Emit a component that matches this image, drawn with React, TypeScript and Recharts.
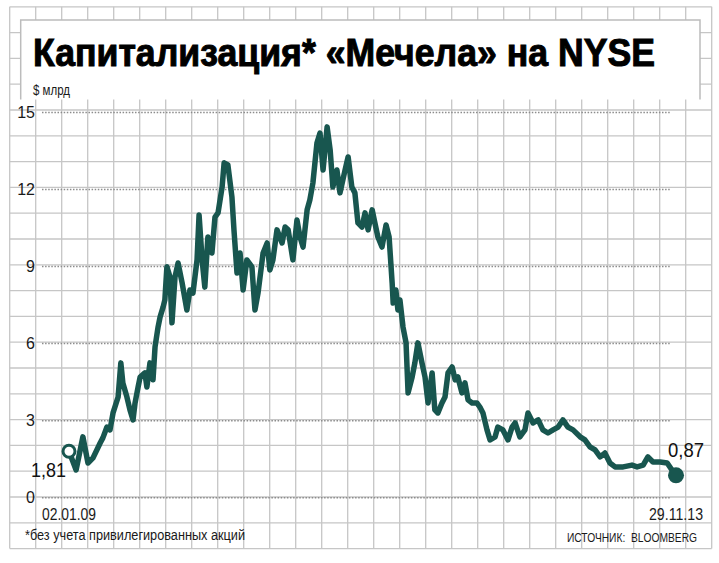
import React from 'react';
import { LineChart, Line, XAxis, YAxis, ReferenceLine, LabelList } from 'recharts';

// Days since 02.01.09 and Mechel market cap, $ bn
const days = [
  0, 21, 41, 56, 71, 92, 100, 112, 121, 130, 145, 153, 159, 171, 180, 189, 195, 204, 210, 224,
  230, 239, 248, 254, 263, 269, 278, 283, 289, 298, 304, 313, 322, 334, 348, 357, 366, 378, 384, 393,
  401, 410, 422, 431, 440, 452, 458, 469, 481, 487, 496, 505, 514, 525, 540, 549, 558, 573, 585, 593,
  602, 614, 629, 638, 647, 661, 673, 682, 691, 703, 711, 720, 732, 741, 750, 762, 771, 779, 791, 800,
  815, 824, 835, 844, 853, 865, 874, 883, 895, 903, 912, 924, 936, 945, 954, 957, 965, 971, 977, 986,
  995, 1001, 1013, 1021, 1030, 1042, 1051, 1060, 1072, 1080, 1089, 1101, 1110, 1119, 1131, 1140, 1148, 1160, 1169, 1178,
  1190, 1204, 1213, 1222, 1234, 1243, 1258, 1266, 1281, 1296, 1308, 1317, 1331, 1346, 1355, 1370, 1385, 1399, 1414, 1429,
  1444, 1458, 1473, 1488, 1509, 1523, 1538, 1553, 1568, 1582, 1597, 1612, 1636, 1662, 1677, 1695, 1709, 1724, 1745, 1766,
  1780, 1792,
];
const values = [
  1.81, 1.08, 2.37, 1.35, 1.55, 2.13, 2.33, 2.75, 2.64, 3.3, 3.92, 5.25, 4.47, 3.92, 3.42, 3.03, 3.69, 4.31, 4.7, 4.86,
  4.31, 5.25, 4.59, 5.87, 6.65, 7.04, 7.43, 7.7, 8.99, 8.6, 6.81, 8.6, 9.14, 8.36, 7.31, 8.09, 7.97, 9.26, 11.01, 9.26,
  8.2, 10.15, 9.53, 10.93, 11.09, 12.1, 13.04, 12.96, 11.71, 10.43, 8.75, 9.53, 8.09, 9.26, 8.99, 7.31, 7.97, 9.53, 9.92, 8.87,
  9.26, 10.43, 9.92, 10.54, 10.43, 9.26, 10.81, 10.15, 9.76, 11.21, 11.59, 12.25, 13.81, 14.2, 12.76, 14.44, 13.54, 12.1, 12.76, 11.87,
  12.76, 13.27, 12.1, 11.87, 10.7, 10.54, 11.09, 10.43, 11.21, 10.7, 10.15, 9.76, 10.62, 10.15, 8.36, 7.58, 8.09, 7.31, 7.7, 6.65,
  6.03, 4.08, 4.7, 5.25, 6.03, 5.25, 4.7, 3.69, 4.86, 3.42, 3.3, 3.69, 3.92, 4.86, 5.09, 4.59, 4.7, 4.08, 4.47, 3.81,
  3.69, 3.69, 3.53, 3.3, 2.64, 2.25, 2.37, 2.75, 2.64, 2.25, 2.75, 2.91, 2.37, 2.64, 3.3, 2.91, 3.03, 2.64, 2.52, 2.64,
  2.75, 3.03, 2.75, 2.64, 2.37, 2.25, 1.98, 1.86, 1.59, 1.74, 1.35, 1.2, 1.2, 1.27, 1.2, 1.27, 1.59, 1.39, 1.39, 1.35,
  1.08, 0.87,
];
const valueLabels = ['1,81', '0,87'];
const xTicks = [0, 1792];
const xTickLabels = ['02.01.09', '29.11.13'];
const yTicks = [0, 3, 6, 9, 12, 15];

const title = 'Капитализация* «Мечела» на NYSE';
const unit = '$ млрд';
const footnote = '*без учета привилегированных акций';
const source = 'ИСТОЧНИК:  BLOOMBERG';

const data = days.map((d, i) => ({ d, v: values[i] }));

const TEAL = '#18564f';
const GRID = '#c6c6c6';
const FONT = '"Liberation Sans", Arial, sans-serif';
const LAST = data.length - 1;

const XTick = (props: any) => {
  const { x, y, payload } = props;
  const idx = xTicks.indexOf(payload.value);
  return (
    <text x={x} y={y + 22} textAnchor="middle" fontFamily={FONT} fontSize={16} fill="#1a1a1a"
      textLength={54} lengthAdjust="spacingAndGlyphs">
      {xTickLabels[idx]}
    </text>
  );
};

const YTick = (props: any) => {
  const { x, y, payload } = props;
  return (
    <text x={x - 7} y={y + 5.5} textAnchor="end" fontFamily={FONT} fontSize={16} fill="#1a1a1a">
      {payload.value}
    </text>
  );
};

const renderDot = (props: any) => {
  const { cx, cy, index } = props;
  if (index === 0) {
    return <circle key="d0" cx={cx} cy={cy} r={6} fill="#fff" stroke={TEAL} strokeWidth={3} />;
  }
  if (index === LAST) {
    return <circle key="dl" cx={cx} cy={cy} r={8} fill={TEAL} stroke="none" />;
  }
  return <g key={'d' + index} />;
};

const renderLabel = (props: any) => {
  const { x, y, index } = props;
  if (index === 0) {
    return (
      <text key="l0" x={x - 3} y={y + 26} textAnchor="end" fontFamily={FONT} fontSize={20} fill="#111"
        textLength={35} lengthAdjust="spacingAndGlyphs">{valueLabels[0]}</text>
    );
  }
  if (index === LAST) {
    return (
      <text key="ll" x={x - 8} y={y - 18} textAnchor="start" fontFamily={FONT} fontSize={20} fill="#111"
        textLength={36} lengthAdjust="spacingAndGlyphs">{valueLabels[1]}</text>
    );
  }
  return <g key={'l' + index} />;
};

export default function App() {
  const gridV = Array.from({ length: 28 }, (_, k) => 9.7 + 26 * k);
  const gridH = Array.from({ length: 22 }, (_, k) => 6.8 + 25.8 * k);
  return (
    <div style={{ position: 'absolute', left: 0, top: 0, width: 719, height: 563, background: '#fff', overflow: 'hidden' }}>
      <svg width={719} height={563} style={{ position: 'absolute', left: 0, top: 0 }}>
        {gridV.map((x, i) => (
          <line key={'v' + i} x1={x} x2={x} y1={6.8} y2={548.6} stroke={GRID} strokeWidth={1.3} />
        ))}
        {gridH.map((y, i) => (
          <line key={'h' + i} x1={9.7} x2={711.7} y1={y} y2={y} stroke={GRID} strokeWidth={1.3} />
        ))}
        <rect x={20.7} y={20} width={679.3} height={79.5} fill="#fff" />
        <path d="M20.7 99.5 V20 H700 V99.5" fill="none" stroke="#bcbcbc" strokeWidth={1.5} />
        <text x={33} y={65.5} fontFamily={FONT} fontWeight="bold" fontSize={38} fill="#000" stroke="#000"
          strokeWidth={1} textLength={622} lengthAdjust="spacingAndGlyphs">{title}</text>
        <text x={33} y={95} fontFamily={FONT} fontSize={14} fill="#1a1a1a" textLength={37}
          lengthAdjust="spacingAndGlyphs">{unit}</text>
        <text x={25} y={539.5} fontFamily={FONT} fontSize={14} fill="#1a1a1a" textLength={220}
          lengthAdjust="spacingAndGlyphs">{footnote}</text>
        <text transform="translate(697 541.5) scale(0.76 1)" x={0} y={0} textAnchor="end" fontFamily={FONT}
          fontSize={13.5} fill="#1a1a1a" style={{ whiteSpace: 'pre' }}>{source}</text>
      </svg>
      <div style={{ position: 'absolute', left: 0, top: 0 }}>
        <LineChart width={719} height={563} data={data}
          margin={{ top: 112.5, right: 29, bottom: 35.3, left: 0 }}>
          <XAxis dataKey="d" type="number" domain={[-79.7, 1833.3]} ticks={xTicks} allowDataOverflow
            axisLine={false} tickLine={false} tickSize={0} tickMargin={0} height={30} tick={<XTick />}
            interval={0} />
          <YAxis type="number" domain={[0, 15]} ticks={yTicks} axisLine={false} tickLine={false}
            tickSize={0} tickMargin={0} width={42} tick={<YTick />} interval={0} />
          {yTicks.map((t) => (
            <ReferenceLine key={'r' + t} segment={[{ x: -79.7, y: t }, { x: 1774.3, y: t }]}
              stroke="#8c8c8c" strokeWidth={1.5} strokeDasharray="1.5 1.6" ifOverflow="extendDomain" />
          ))}
          <Line type="linear" dataKey="v" stroke={TEAL} strokeWidth={5.5} strokeLinejoin="round"
            strokeLinecap="round" dot={renderDot} activeDot={false} isAnimationActive={false}>
            <LabelList dataKey="v" content={renderLabel} />
          </Line>
        </LineChart>
      </div>
    </div>
  );
}
